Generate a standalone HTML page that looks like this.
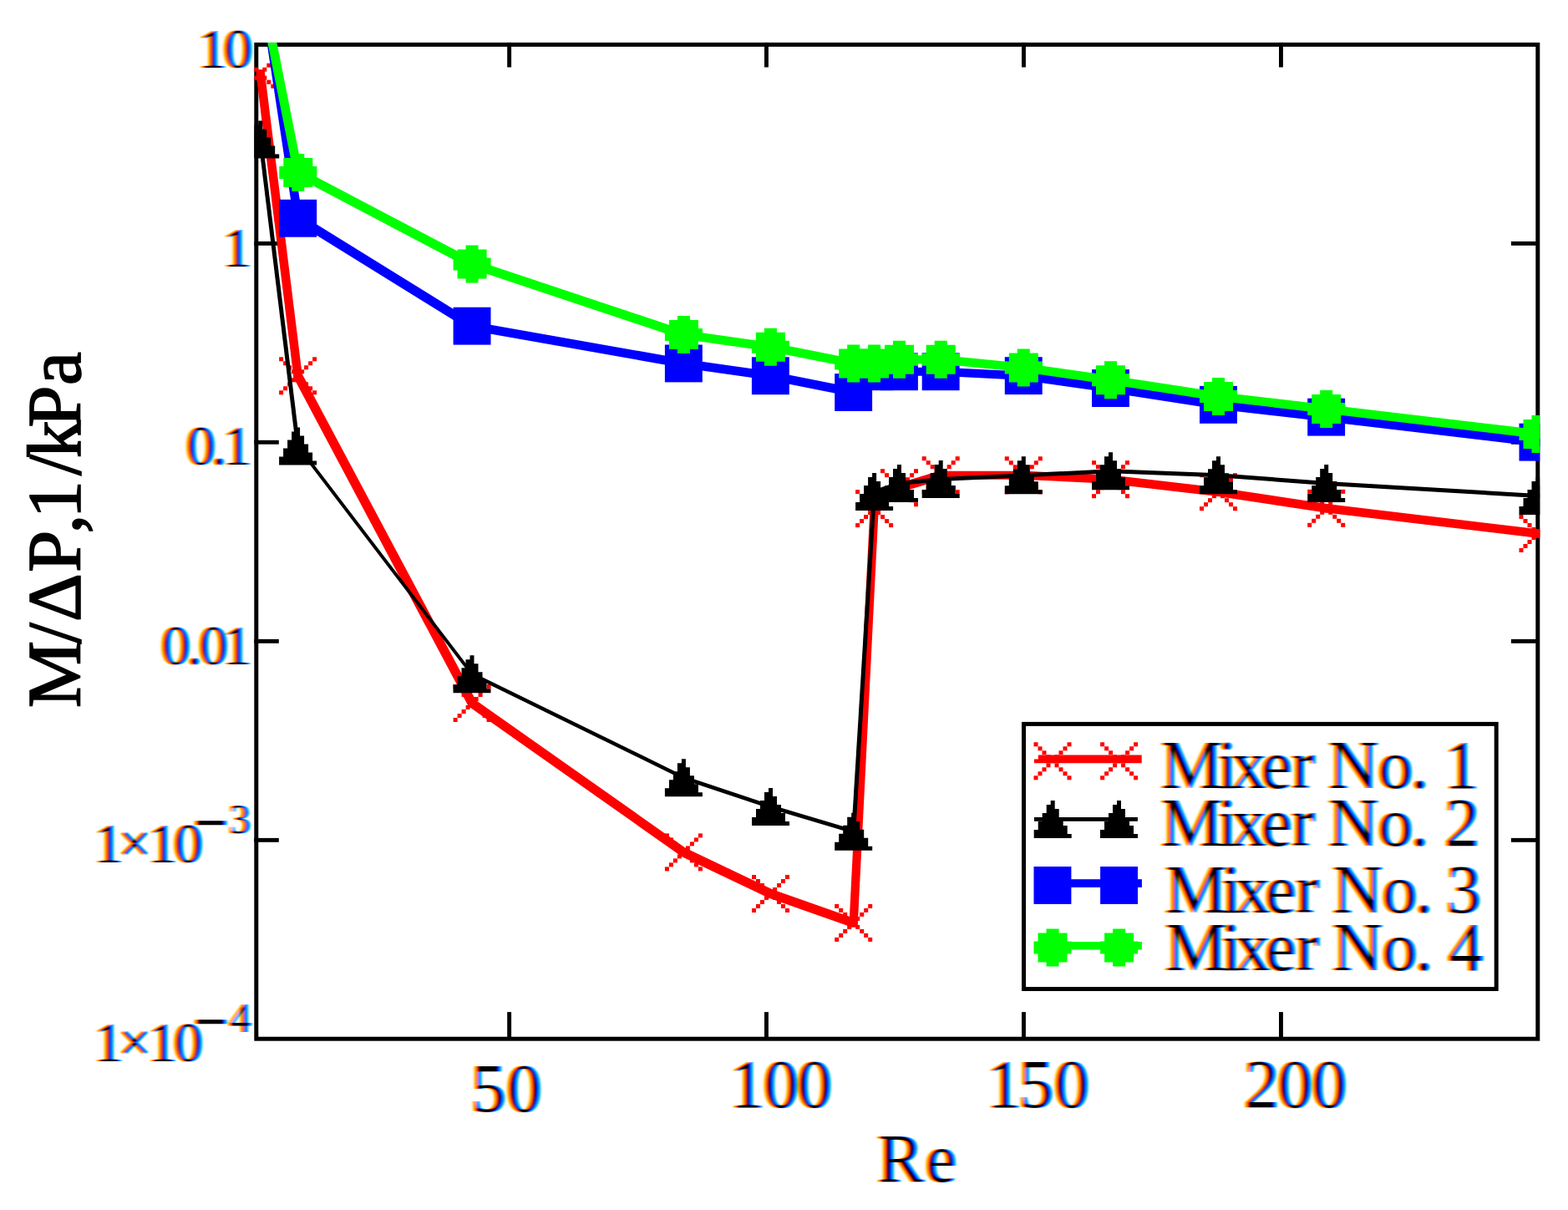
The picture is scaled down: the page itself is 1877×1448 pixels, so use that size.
<!DOCTYPE html>
<html><head><meta charset="utf-8"><title>Mixer chart</title>
<style>html,body{margin:0;padding:0;background:#fff;overflow:hidden;}svg{display:block;}</style>
</head><body>
<svg width="1877" height="1448" viewBox="0 0 1877 1448">
<rect width="1877" height="1448" fill="#fff"/>
<defs><clipPath id="pc"><rect x="304.3" y="50.9" width="1539.0" height="1194.8"/></clipPath></defs>
<rect x="306.8" y="53.4" width="1534.0" height="1189.8" fill="none" stroke="#000" stroke-width="4.99"/>
<g fill="#000"><rect x="607.2" y="50.9" width="4.9" height="29.6"/><rect x="607.2" y="1211.1" width="4.9" height="32"/><rect x="915.0" y="50.9" width="4.9" height="29.6"/><rect x="915.0" y="1211.1" width="4.9" height="32"/><rect x="1223.0" y="50.9" width="4.9" height="29.6"/><rect x="1223.0" y="1211.1" width="4.9" height="32"/><rect x="1531.0" y="50.9" width="4.9" height="29.6"/><rect x="1531.0" y="1211.1" width="4.9" height="32"/><rect x="304.3" y="288.9" width="29.5" height="4.9"/><rect x="1808.9" y="288.9" width="32" height="4.9"/><rect x="304.3" y="526.8" width="29.5" height="4.9"/><rect x="1808.9" y="526.8" width="32" height="4.9"/><rect x="304.3" y="764.9" width="29.5" height="4.9"/><rect x="1808.9" y="764.9" width="32" height="4.9"/><rect x="304.3" y="1002.9" width="29.5" height="4.9"/><rect x="1808.9" y="1002.9" width="32" height="4.9"/></g>
<g clip-path="url(#pc)"><g fill="#ff0000"><polygon points="306.8,85.7 316.8,85.7 361.6,447.3 361.6,452.3 351.6,452.3 306.8,90.7"/><polygon points="351.6,447.3 361.6,447.3 570.1,839.0 570.1,844.0 560.1,844.0 351.6,452.3"/><polygon points="562.6,836.5 567.6,836.5 820.9,1014.9 820.9,1024.9 815.9,1024.9 562.6,846.5"/><polygon points="815.9,1014.9 820.9,1014.9 925.0,1064.5 925.0,1074.5 920.0,1074.5 815.9,1024.9"/><polygon points="920.0,1064.5 925.0,1064.5 1024.2,1099.4 1024.2,1109.4 1019.2,1109.4 920.0,1074.5"/><polygon points="1016.7,1101.9 1041.6,606.1 1051.6,606.1 1051.6,611.1 1026.7,1106.9 1016.7,1106.9"/><polygon points="1044.1,603.6 1074.0,578.7 1079.0,578.7 1079.0,588.7 1049.1,613.6 1044.1,613.6"/><polygon points="1074.0,578.7 1123.7,563.7 1128.7,563.7 1128.7,573.7 1079.0,588.7 1074.0,588.7"/><polygon points="1123.7,563.7 1128.7,563.7 1227.8,563.8 1227.8,573.8 1222.8,573.8 1123.7,573.7"/><polygon points="1222.8,563.8 1227.8,563.8 1332.0,568.7 1332.0,578.7 1327.0,578.7 1222.8,573.8"/><polygon points="1327.0,568.7 1332.0,568.7 1461.0,583.7 1461.0,593.7 1456.0,593.7 1327.0,578.7"/><polygon points="1456.0,583.7 1461.0,583.7 1590.2,603.3 1590.2,613.3 1585.2,613.3 1456.0,593.7"/><polygon points="1585.2,603.3 1590.2,603.3 1843.5,633.5 1843.5,643.5 1838.5,643.5 1585.2,613.3"/><rect x="306.8" y="83.2" width="10.0" height="10.0"/><rect x="351.6" y="444.8" width="10.0" height="10.0"/><rect x="560.1" y="836.5" width="10.0" height="10.0"/><rect x="813.4" y="1014.9" width="10.0" height="10.0"/><rect x="917.5" y="1064.5" width="10.0" height="10.0"/><rect x="1016.7" y="1099.4" width="10.0" height="10.0"/><rect x="1041.6" y="603.6" width="10.0" height="10.0"/><rect x="1071.5" y="578.7" width="10.0" height="10.0"/><rect x="1121.2" y="563.7" width="10.0" height="10.0"/><rect x="1220.3" y="563.8" width="10.0" height="10.0"/><rect x="1324.5" y="568.7" width="10.0" height="10.0"/><rect x="1453.5" y="583.7" width="10.0" height="10.0"/><rect x="1582.7" y="603.3" width="10.0" height="10.0"/><rect x="1836.0" y="633.5" width="10.0" height="10.0"/></g><g fill="#ff0000"><rect x="289.3" y="65.7" width="5.0" height="5.0"/><rect x="329.3" y="65.7" width="5.0" height="5.0"/><rect x="294.3" y="70.7" width="5.0" height="5.0"/><rect x="324.3" y="70.7" width="5.0" height="5.0"/><rect x="299.3" y="75.7" width="5.0" height="5.0"/><rect x="319.3" y="75.7" width="5.0" height="5.0"/><rect x="304.3" y="80.7" width="5.0" height="5.0"/><rect x="314.3" y="80.7" width="5.0" height="5.0"/><rect x="309.3" y="85.7" width="5.0" height="5.0"/><rect x="314.3" y="90.7" width="5.0" height="5.0"/><rect x="304.3" y="90.7" width="5.0" height="5.0"/><rect x="319.3" y="95.7" width="5.0" height="5.0"/><rect x="299.3" y="95.7" width="5.0" height="5.0"/><rect x="324.3" y="100.7" width="5.0" height="5.0"/><rect x="294.3" y="100.7" width="5.0" height="5.0"/><rect x="329.3" y="105.7" width="5.0" height="5.0"/><rect x="289.3" y="105.7" width="5.0" height="5.0"/></g><g fill="#ff0000"><rect x="334.1" y="427.3" width="5.0" height="5.0"/><rect x="374.1" y="427.3" width="5.0" height="5.0"/><rect x="339.1" y="432.3" width="5.0" height="5.0"/><rect x="369.1" y="432.3" width="5.0" height="5.0"/><rect x="344.1" y="437.3" width="5.0" height="5.0"/><rect x="364.1" y="437.3" width="5.0" height="5.0"/><rect x="349.1" y="442.3" width="5.0" height="5.0"/><rect x="359.1" y="442.3" width="5.0" height="5.0"/><rect x="354.1" y="447.3" width="5.0" height="5.0"/><rect x="359.1" y="452.3" width="5.0" height="5.0"/><rect x="349.1" y="452.3" width="5.0" height="5.0"/><rect x="364.1" y="457.3" width="5.0" height="5.0"/><rect x="344.1" y="457.3" width="5.0" height="5.0"/><rect x="369.1" y="462.3" width="5.0" height="5.0"/><rect x="339.1" y="462.3" width="5.0" height="5.0"/><rect x="374.1" y="467.3" width="5.0" height="5.0"/><rect x="334.1" y="467.3" width="5.0" height="5.0"/></g><g fill="#ff0000"><rect x="542.6" y="819.0" width="5.0" height="5.0"/><rect x="582.6" y="819.0" width="5.0" height="5.0"/><rect x="547.6" y="824.0" width="5.0" height="5.0"/><rect x="577.6" y="824.0" width="5.0" height="5.0"/><rect x="552.6" y="829.0" width="5.0" height="5.0"/><rect x="572.6" y="829.0" width="5.0" height="5.0"/><rect x="557.6" y="834.0" width="5.0" height="5.0"/><rect x="567.6" y="834.0" width="5.0" height="5.0"/><rect x="562.6" y="839.0" width="5.0" height="5.0"/><rect x="567.6" y="844.0" width="5.0" height="5.0"/><rect x="557.6" y="844.0" width="5.0" height="5.0"/><rect x="572.6" y="849.0" width="5.0" height="5.0"/><rect x="552.6" y="849.0" width="5.0" height="5.0"/><rect x="577.6" y="854.0" width="5.0" height="5.0"/><rect x="547.6" y="854.0" width="5.0" height="5.0"/><rect x="582.6" y="859.0" width="5.0" height="5.0"/><rect x="542.6" y="859.0" width="5.0" height="5.0"/></g><g fill="#ff0000"><rect x="795.9" y="997.4" width="5.0" height="5.0"/><rect x="835.9" y="997.4" width="5.0" height="5.0"/><rect x="800.9" y="1002.4" width="5.0" height="5.0"/><rect x="830.9" y="1002.4" width="5.0" height="5.0"/><rect x="805.9" y="1007.4" width="5.0" height="5.0"/><rect x="825.9" y="1007.4" width="5.0" height="5.0"/><rect x="810.9" y="1012.4" width="5.0" height="5.0"/><rect x="820.9" y="1012.4" width="5.0" height="5.0"/><rect x="815.9" y="1017.4" width="5.0" height="5.0"/><rect x="820.9" y="1022.4" width="5.0" height="5.0"/><rect x="810.9" y="1022.4" width="5.0" height="5.0"/><rect x="825.9" y="1027.4" width="5.0" height="5.0"/><rect x="805.9" y="1027.4" width="5.0" height="5.0"/><rect x="830.9" y="1032.4" width="5.0" height="5.0"/><rect x="800.9" y="1032.4" width="5.0" height="5.0"/><rect x="835.9" y="1037.4" width="5.0" height="5.0"/><rect x="795.9" y="1037.4" width="5.0" height="5.0"/></g><g fill="#ff0000"><rect x="900.0" y="1047.0" width="5.0" height="5.0"/><rect x="940.0" y="1047.0" width="5.0" height="5.0"/><rect x="905.0" y="1052.0" width="5.0" height="5.0"/><rect x="935.0" y="1052.0" width="5.0" height="5.0"/><rect x="910.0" y="1057.0" width="5.0" height="5.0"/><rect x="930.0" y="1057.0" width="5.0" height="5.0"/><rect x="915.0" y="1062.0" width="5.0" height="5.0"/><rect x="925.0" y="1062.0" width="5.0" height="5.0"/><rect x="920.0" y="1067.0" width="5.0" height="5.0"/><rect x="925.0" y="1072.0" width="5.0" height="5.0"/><rect x="915.0" y="1072.0" width="5.0" height="5.0"/><rect x="930.0" y="1077.0" width="5.0" height="5.0"/><rect x="910.0" y="1077.0" width="5.0" height="5.0"/><rect x="935.0" y="1082.0" width="5.0" height="5.0"/><rect x="905.0" y="1082.0" width="5.0" height="5.0"/><rect x="940.0" y="1087.0" width="5.0" height="5.0"/><rect x="900.0" y="1087.0" width="5.0" height="5.0"/></g><g fill="#ff0000"><rect x="999.2" y="1081.9" width="5.0" height="5.0"/><rect x="1039.2" y="1081.9" width="5.0" height="5.0"/><rect x="1004.2" y="1086.9" width="5.0" height="5.0"/><rect x="1034.2" y="1086.9" width="5.0" height="5.0"/><rect x="1009.2" y="1091.9" width="5.0" height="5.0"/><rect x="1029.2" y="1091.9" width="5.0" height="5.0"/><rect x="1014.2" y="1096.9" width="5.0" height="5.0"/><rect x="1024.2" y="1096.9" width="5.0" height="5.0"/><rect x="1019.2" y="1101.9" width="5.0" height="5.0"/><rect x="1024.2" y="1106.9" width="5.0" height="5.0"/><rect x="1014.2" y="1106.9" width="5.0" height="5.0"/><rect x="1029.2" y="1111.9" width="5.0" height="5.0"/><rect x="1009.2" y="1111.9" width="5.0" height="5.0"/><rect x="1034.2" y="1116.9" width="5.0" height="5.0"/><rect x="1004.2" y="1116.9" width="5.0" height="5.0"/><rect x="1039.2" y="1121.9" width="5.0" height="5.0"/><rect x="999.2" y="1121.9" width="5.0" height="5.0"/></g><g fill="#ff0000"><rect x="1024.1" y="586.1" width="5.0" height="5.0"/><rect x="1064.1" y="586.1" width="5.0" height="5.0"/><rect x="1029.1" y="591.1" width="5.0" height="5.0"/><rect x="1059.1" y="591.1" width="5.0" height="5.0"/><rect x="1034.1" y="596.1" width="5.0" height="5.0"/><rect x="1054.1" y="596.1" width="5.0" height="5.0"/><rect x="1039.1" y="601.1" width="5.0" height="5.0"/><rect x="1049.1" y="601.1" width="5.0" height="5.0"/><rect x="1044.1" y="606.1" width="5.0" height="5.0"/><rect x="1049.1" y="611.1" width="5.0" height="5.0"/><rect x="1039.1" y="611.1" width="5.0" height="5.0"/><rect x="1054.1" y="616.1" width="5.0" height="5.0"/><rect x="1034.1" y="616.1" width="5.0" height="5.0"/><rect x="1059.1" y="621.1" width="5.0" height="5.0"/><rect x="1029.1" y="621.1" width="5.0" height="5.0"/><rect x="1064.1" y="626.1" width="5.0" height="5.0"/><rect x="1024.1" y="626.1" width="5.0" height="5.0"/></g><g fill="#ff0000"><rect x="1054.0" y="561.2" width="5.0" height="5.0"/><rect x="1094.0" y="561.2" width="5.0" height="5.0"/><rect x="1059.0" y="566.2" width="5.0" height="5.0"/><rect x="1089.0" y="566.2" width="5.0" height="5.0"/><rect x="1064.0" y="571.2" width="5.0" height="5.0"/><rect x="1084.0" y="571.2" width="5.0" height="5.0"/><rect x="1069.0" y="576.2" width="5.0" height="5.0"/><rect x="1079.0" y="576.2" width="5.0" height="5.0"/><rect x="1074.0" y="581.2" width="5.0" height="5.0"/><rect x="1079.0" y="586.2" width="5.0" height="5.0"/><rect x="1069.0" y="586.2" width="5.0" height="5.0"/><rect x="1084.0" y="591.2" width="5.0" height="5.0"/><rect x="1064.0" y="591.2" width="5.0" height="5.0"/><rect x="1089.0" y="596.2" width="5.0" height="5.0"/><rect x="1059.0" y="596.2" width="5.0" height="5.0"/><rect x="1094.0" y="601.2" width="5.0" height="5.0"/><rect x="1054.0" y="601.2" width="5.0" height="5.0"/></g><g fill="#ff0000"><rect x="1103.7" y="546.2" width="5.0" height="5.0"/><rect x="1143.7" y="546.2" width="5.0" height="5.0"/><rect x="1108.7" y="551.2" width="5.0" height="5.0"/><rect x="1138.7" y="551.2" width="5.0" height="5.0"/><rect x="1113.7" y="556.2" width="5.0" height="5.0"/><rect x="1133.7" y="556.2" width="5.0" height="5.0"/><rect x="1118.7" y="561.2" width="5.0" height="5.0"/><rect x="1128.7" y="561.2" width="5.0" height="5.0"/><rect x="1123.7" y="566.2" width="5.0" height="5.0"/><rect x="1128.7" y="571.2" width="5.0" height="5.0"/><rect x="1118.7" y="571.2" width="5.0" height="5.0"/><rect x="1133.7" y="576.2" width="5.0" height="5.0"/><rect x="1113.7" y="576.2" width="5.0" height="5.0"/><rect x="1138.7" y="581.2" width="5.0" height="5.0"/><rect x="1108.7" y="581.2" width="5.0" height="5.0"/><rect x="1143.7" y="586.2" width="5.0" height="5.0"/><rect x="1103.7" y="586.2" width="5.0" height="5.0"/></g><g fill="#ff0000"><rect x="1202.8" y="546.3" width="5.0" height="5.0"/><rect x="1242.8" y="546.3" width="5.0" height="5.0"/><rect x="1207.8" y="551.3" width="5.0" height="5.0"/><rect x="1237.8" y="551.3" width="5.0" height="5.0"/><rect x="1212.8" y="556.3" width="5.0" height="5.0"/><rect x="1232.8" y="556.3" width="5.0" height="5.0"/><rect x="1217.8" y="561.3" width="5.0" height="5.0"/><rect x="1227.8" y="561.3" width="5.0" height="5.0"/><rect x="1222.8" y="566.3" width="5.0" height="5.0"/><rect x="1227.8" y="571.3" width="5.0" height="5.0"/><rect x="1217.8" y="571.3" width="5.0" height="5.0"/><rect x="1232.8" y="576.3" width="5.0" height="5.0"/><rect x="1212.8" y="576.3" width="5.0" height="5.0"/><rect x="1237.8" y="581.3" width="5.0" height="5.0"/><rect x="1207.8" y="581.3" width="5.0" height="5.0"/><rect x="1242.8" y="586.3" width="5.0" height="5.0"/><rect x="1202.8" y="586.3" width="5.0" height="5.0"/></g><g fill="#ff0000"><rect x="1307.0" y="551.2" width="5.0" height="5.0"/><rect x="1347.0" y="551.2" width="5.0" height="5.0"/><rect x="1312.0" y="556.2" width="5.0" height="5.0"/><rect x="1342.0" y="556.2" width="5.0" height="5.0"/><rect x="1317.0" y="561.2" width="5.0" height="5.0"/><rect x="1337.0" y="561.2" width="5.0" height="5.0"/><rect x="1322.0" y="566.2" width="5.0" height="5.0"/><rect x="1332.0" y="566.2" width="5.0" height="5.0"/><rect x="1327.0" y="571.2" width="5.0" height="5.0"/><rect x="1332.0" y="576.2" width="5.0" height="5.0"/><rect x="1322.0" y="576.2" width="5.0" height="5.0"/><rect x="1337.0" y="581.2" width="5.0" height="5.0"/><rect x="1317.0" y="581.2" width="5.0" height="5.0"/><rect x="1342.0" y="586.2" width="5.0" height="5.0"/><rect x="1312.0" y="586.2" width="5.0" height="5.0"/><rect x="1347.0" y="591.2" width="5.0" height="5.0"/><rect x="1307.0" y="591.2" width="5.0" height="5.0"/></g><g fill="#ff0000"><rect x="1436.0" y="566.2" width="5.0" height="5.0"/><rect x="1476.0" y="566.2" width="5.0" height="5.0"/><rect x="1441.0" y="571.2" width="5.0" height="5.0"/><rect x="1471.0" y="571.2" width="5.0" height="5.0"/><rect x="1446.0" y="576.2" width="5.0" height="5.0"/><rect x="1466.0" y="576.2" width="5.0" height="5.0"/><rect x="1451.0" y="581.2" width="5.0" height="5.0"/><rect x="1461.0" y="581.2" width="5.0" height="5.0"/><rect x="1456.0" y="586.2" width="5.0" height="5.0"/><rect x="1461.0" y="591.2" width="5.0" height="5.0"/><rect x="1451.0" y="591.2" width="5.0" height="5.0"/><rect x="1466.0" y="596.2" width="5.0" height="5.0"/><rect x="1446.0" y="596.2" width="5.0" height="5.0"/><rect x="1471.0" y="601.2" width="5.0" height="5.0"/><rect x="1441.0" y="601.2" width="5.0" height="5.0"/><rect x="1476.0" y="606.2" width="5.0" height="5.0"/><rect x="1436.0" y="606.2" width="5.0" height="5.0"/></g><g fill="#ff0000"><rect x="1565.2" y="585.8" width="5.0" height="5.0"/><rect x="1605.2" y="585.8" width="5.0" height="5.0"/><rect x="1570.2" y="590.8" width="5.0" height="5.0"/><rect x="1600.2" y="590.8" width="5.0" height="5.0"/><rect x="1575.2" y="595.8" width="5.0" height="5.0"/><rect x="1595.2" y="595.8" width="5.0" height="5.0"/><rect x="1580.2" y="600.8" width="5.0" height="5.0"/><rect x="1590.2" y="600.8" width="5.0" height="5.0"/><rect x="1585.2" y="605.8" width="5.0" height="5.0"/><rect x="1590.2" y="610.8" width="5.0" height="5.0"/><rect x="1580.2" y="610.8" width="5.0" height="5.0"/><rect x="1595.2" y="615.8" width="5.0" height="5.0"/><rect x="1575.2" y="615.8" width="5.0" height="5.0"/><rect x="1600.2" y="620.8" width="5.0" height="5.0"/><rect x="1570.2" y="620.8" width="5.0" height="5.0"/><rect x="1605.2" y="625.8" width="5.0" height="5.0"/><rect x="1565.2" y="625.8" width="5.0" height="5.0"/></g><g fill="#ff0000"><rect x="1818.5" y="616.0" width="5.0" height="5.0"/><rect x="1858.5" y="616.0" width="5.0" height="5.0"/><rect x="1823.5" y="621.0" width="5.0" height="5.0"/><rect x="1853.5" y="621.0" width="5.0" height="5.0"/><rect x="1828.5" y="626.0" width="5.0" height="5.0"/><rect x="1848.5" y="626.0" width="5.0" height="5.0"/><rect x="1833.5" y="631.0" width="5.0" height="5.0"/><rect x="1843.5" y="631.0" width="5.0" height="5.0"/><rect x="1838.5" y="636.0" width="5.0" height="5.0"/><rect x="1843.5" y="641.0" width="5.0" height="5.0"/><rect x="1833.5" y="641.0" width="5.0" height="5.0"/><rect x="1848.5" y="646.0" width="5.0" height="5.0"/><rect x="1828.5" y="646.0" width="5.0" height="5.0"/><rect x="1853.5" y="651.0" width="5.0" height="5.0"/><rect x="1823.5" y="651.0" width="5.0" height="5.0"/><rect x="1858.5" y="656.0" width="5.0" height="5.0"/><rect x="1818.5" y="656.0" width="5.0" height="5.0"/></g><g fill="#000000"><polygon points="309.2,167.0 314.2,167.0 359.1,533.9 354.1,533.9"/><polygon points="354.1,533.9 359.1,533.9 567.5,806.8 562.5,806.8"/><polygon points="565.0,804.3 818.4,928.2 818.4,933.2 565.0,809.3"/><polygon points="818.4,928.2 922.5,962.9 922.5,967.9 818.4,933.2"/><polygon points="922.5,962.9 1021.7,992.7 1021.7,997.7 922.5,967.9"/><polygon points="1019.2,995.2 1044.1,588.5 1049.1,588.5 1024.2,995.2"/><polygon points="1046.6,586.0 1076.5,576.1 1076.5,581.1 1046.6,591.0"/><polygon points="1076.5,576.1 1126.2,571.1 1126.2,576.1 1076.5,581.1"/><polygon points="1126.2,571.1 1225.3,566.3 1225.3,571.3 1126.2,576.1"/><polygon points="1225.3,566.3 1329.5,561.3 1329.5,566.3 1225.3,571.3"/><polygon points="1329.5,561.3 1458.5,566.3 1458.5,571.3 1329.5,566.3"/><polygon points="1458.5,566.3 1587.7,576.0 1587.7,581.0 1458.5,571.3"/><polygon points="1587.7,576.0 1841.0,590.9 1841.0,595.9 1587.7,581.0"/><rect x="309.2" y="164.5" width="5.0" height="5.0"/><rect x="354.1" y="531.4" width="5.0" height="5.0"/><rect x="562.5" y="804.3" width="5.0" height="5.0"/><rect x="815.9" y="928.2" width="5.0" height="5.0"/><rect x="920.0" y="962.9" width="5.0" height="5.0"/><rect x="1019.2" y="992.7" width="5.0" height="5.0"/><rect x="1044.1" y="586.0" width="5.0" height="5.0"/><rect x="1074.0" y="576.1" width="5.0" height="5.0"/><rect x="1123.7" y="571.1" width="5.0" height="5.0"/><rect x="1222.8" y="566.3" width="5.0" height="5.0"/><rect x="1327.0" y="561.3" width="5.0" height="5.0"/><rect x="1456.0" y="566.3" width="5.0" height="5.0"/><rect x="1585.2" y="576.0" width="5.0" height="5.0"/><rect x="1838.5" y="590.9" width="5.0" height="5.0"/></g><polygon fill="#000000" points="309.2,144.5 314.2,144.5 314.2,154.5 319.2,154.5 319.2,164.5 324.2,164.5 324.2,174.5 329.2,174.5 329.2,184.5 334.2,184.5 334.2,189.5 289.2,189.5 289.2,179.5 294.2,179.5 294.2,169.5 299.2,169.5 299.2,159.5 304.2,159.5 304.2,149.5 309.2,149.5"/><polygon fill="#000000" points="354.1,511.4 359.1,511.4 359.1,521.4 364.1,521.4 364.1,531.4 369.1,531.4 369.1,541.4 374.1,541.4 374.1,551.4 379.1,551.4 379.1,556.4 334.1,556.4 334.1,546.4 339.1,546.4 339.1,536.4 344.1,536.4 344.1,526.4 349.1,526.4 349.1,516.4 354.1,516.4"/><polygon fill="#000000" points="562.5,784.3 567.5,784.3 567.5,794.3 572.5,794.3 572.5,804.3 577.5,804.3 577.5,814.3 582.5,814.3 582.5,824.3 587.5,824.3 587.5,829.3 542.5,829.3 542.5,819.3 547.5,819.3 547.5,809.3 552.5,809.3 552.5,799.3 557.5,799.3 557.5,789.3 562.5,789.3"/><polygon fill="#000000" points="815.9,908.2 820.9,908.2 820.9,918.2 825.9,918.2 825.9,928.2 830.9,928.2 830.9,938.2 835.9,938.2 835.9,948.2 840.9,948.2 840.9,953.2 795.9,953.2 795.9,943.2 800.9,943.2 800.9,933.2 805.9,933.2 805.9,923.2 810.9,923.2 810.9,913.2 815.9,913.2"/><polygon fill="#000000" points="920.0,942.9 925.0,942.9 925.0,952.9 930.0,952.9 930.0,962.9 935.0,962.9 935.0,972.9 940.0,972.9 940.0,982.9 945.0,982.9 945.0,987.9 900.0,987.9 900.0,977.9 905.0,977.9 905.0,967.9 910.0,967.9 910.0,957.9 915.0,957.9 915.0,947.9 920.0,947.9"/><polygon fill="#000000" points="1019.2,972.7 1024.2,972.7 1024.2,982.7 1029.2,982.7 1029.2,992.7 1034.2,992.7 1034.2,1002.7 1039.2,1002.7 1039.2,1012.7 1044.2,1012.7 1044.2,1017.7 999.2,1017.7 999.2,1007.7 1004.2,1007.7 1004.2,997.7 1009.2,997.7 1009.2,987.7 1014.2,987.7 1014.2,977.7 1019.2,977.7"/><polygon fill="#000000" points="1044.1,566.0 1049.1,566.0 1049.1,576.0 1054.1,576.0 1054.1,586.0 1059.1,586.0 1059.1,596.0 1064.1,596.0 1064.1,606.0 1069.1,606.0 1069.1,611.0 1024.1,611.0 1024.1,601.0 1029.1,601.0 1029.1,591.0 1034.1,591.0 1034.1,581.0 1039.1,581.0 1039.1,571.0 1044.1,571.0"/><polygon fill="#000000" points="1074.0,556.1 1079.0,556.1 1079.0,566.1 1084.0,566.1 1084.0,576.1 1089.0,576.1 1089.0,586.1 1094.0,586.1 1094.0,596.1 1099.0,596.1 1099.0,601.1 1054.0,601.1 1054.0,591.1 1059.0,591.1 1059.0,581.1 1064.0,581.1 1064.0,571.1 1069.0,571.1 1069.0,561.1 1074.0,561.1"/><polygon fill="#000000" points="1123.7,551.1 1128.7,551.1 1128.7,561.1 1133.7,561.1 1133.7,571.1 1138.7,571.1 1138.7,581.1 1143.7,581.1 1143.7,591.1 1148.7,591.1 1148.7,596.1 1103.7,596.1 1103.7,586.1 1108.7,586.1 1108.7,576.1 1113.7,576.1 1113.7,566.1 1118.7,566.1 1118.7,556.1 1123.7,556.1"/><polygon fill="#000000" points="1222.8,546.3 1227.8,546.3 1227.8,556.3 1232.8,556.3 1232.8,566.3 1237.8,566.3 1237.8,576.3 1242.8,576.3 1242.8,586.3 1247.8,586.3 1247.8,591.3 1202.8,591.3 1202.8,581.3 1207.8,581.3 1207.8,571.3 1212.8,571.3 1212.8,561.3 1217.8,561.3 1217.8,551.3 1222.8,551.3"/><polygon fill="#000000" points="1327.0,541.3 1332.0,541.3 1332.0,551.3 1337.0,551.3 1337.0,561.3 1342.0,561.3 1342.0,571.3 1347.0,571.3 1347.0,581.3 1352.0,581.3 1352.0,586.3 1307.0,586.3 1307.0,576.3 1312.0,576.3 1312.0,566.3 1317.0,566.3 1317.0,556.3 1322.0,556.3 1322.0,546.3 1327.0,546.3"/><polygon fill="#000000" points="1456.0,546.3 1461.0,546.3 1461.0,556.3 1466.0,556.3 1466.0,566.3 1471.0,566.3 1471.0,576.3 1476.0,576.3 1476.0,586.3 1481.0,586.3 1481.0,591.3 1436.0,591.3 1436.0,581.3 1441.0,581.3 1441.0,571.3 1446.0,571.3 1446.0,561.3 1451.0,561.3 1451.0,551.3 1456.0,551.3"/><polygon fill="#000000" points="1585.2,556.0 1590.2,556.0 1590.2,566.0 1595.2,566.0 1595.2,576.0 1600.2,576.0 1600.2,586.0 1605.2,586.0 1605.2,596.0 1610.2,596.0 1610.2,601.0 1565.2,601.0 1565.2,591.0 1570.2,591.0 1570.2,581.0 1575.2,581.0 1575.2,571.0 1580.2,571.0 1580.2,561.0 1585.2,561.0"/><polygon fill="#000000" points="1838.5,570.9 1843.5,570.9 1843.5,580.9 1848.5,580.9 1848.5,590.9 1853.5,590.9 1853.5,600.9 1858.5,600.9 1858.5,610.9 1863.5,610.9 1863.5,615.9 1818.5,615.9 1818.5,605.9 1823.5,605.9 1823.5,595.9 1828.5,595.9 1828.5,585.9 1833.5,585.9 1833.5,575.9 1838.5,575.9"/><g fill="#0000ff"><polygon points="306.8,-37.5 316.8,-37.5 361.8,258.8 361.8,263.8 351.8,263.8 306.8,-32.5"/><polygon points="354.3,256.3 359.3,256.3 567.6,385.2 567.6,395.2 562.6,395.2 354.3,266.3"/><polygon points="562.6,385.2 567.6,385.2 820.9,430.0 820.9,440.0 815.9,440.0 562.6,395.2"/><polygon points="815.9,430.0 820.9,430.0 924.9,444.8 924.9,454.8 919.9,454.8 815.9,440.0"/><polygon points="919.9,444.8 924.9,444.8 1024.2,464.6 1024.2,474.6 1019.2,474.6 919.9,454.8"/><polygon points="1019.2,464.6 1044.1,439.8 1049.1,439.8 1049.1,449.8 1024.2,474.6 1019.2,474.6"/><polygon points="1044.1,439.8 1079.0,439.8 1079.0,449.8 1044.1,449.8"/><polygon points="1074.0,439.8 1128.7,439.8 1128.7,449.8 1074.0,449.8"/><polygon points="1123.7,439.8 1128.7,439.8 1227.8,444.7 1227.8,454.7 1222.8,454.7 1123.7,449.8"/><polygon points="1222.8,444.7 1227.8,444.7 1332.0,459.6 1332.0,469.6 1327.0,469.6 1222.8,454.7"/><polygon points="1327.0,459.6 1332.0,459.6 1461.0,479.4 1461.0,489.4 1456.0,489.4 1327.0,469.6"/><polygon points="1456.0,479.4 1461.0,479.4 1590.2,494.2 1590.2,504.2 1585.2,504.2 1456.0,489.4"/><polygon points="1585.2,494.2 1590.2,494.2 1843.5,524.2 1843.5,534.2 1838.5,534.2 1585.2,504.2"/><rect x="306.8" y="-40.0" width="10.0" height="10.0"/><rect x="351.8" y="256.3" width="10.0" height="10.0"/><rect x="560.1" y="385.2" width="10.0" height="10.0"/><rect x="813.4" y="430.0" width="10.0" height="10.0"/><rect x="917.4" y="444.8" width="10.0" height="10.0"/><rect x="1016.7" y="464.6" width="10.0" height="10.0"/><rect x="1041.6" y="439.8" width="10.0" height="10.0"/><rect x="1071.5" y="439.8" width="10.0" height="10.0"/><rect x="1121.2" y="439.8" width="10.0" height="10.0"/><rect x="1220.3" y="444.7" width="10.0" height="10.0"/><rect x="1324.5" y="459.6" width="10.0" height="10.0"/><rect x="1453.5" y="479.4" width="10.0" height="10.0"/><rect x="1582.7" y="494.2" width="10.0" height="10.0"/><rect x="1836.0" y="524.2" width="10.0" height="10.0"/></g><rect fill="#0000ff" x="289.3" y="-57.5" width="44.9" height="44.9"/><rect fill="#0000ff" x="334.3" y="238.8" width="44.9" height="44.9"/><rect fill="#0000ff" x="542.6" y="367.7" width="44.9" height="44.9"/><rect fill="#0000ff" x="795.9" y="412.5" width="44.9" height="44.9"/><rect fill="#0000ff" x="899.9" y="427.3" width="44.9" height="44.9"/><rect fill="#0000ff" x="999.2" y="447.1" width="44.9" height="44.9"/><rect fill="#0000ff" x="1024.1" y="422.3" width="44.9" height="44.9"/><rect fill="#0000ff" x="1054.0" y="422.3" width="44.9" height="44.9"/><rect fill="#0000ff" x="1103.7" y="422.3" width="44.9" height="44.9"/><rect fill="#0000ff" x="1202.8" y="427.2" width="44.9" height="44.9"/><rect fill="#0000ff" x="1307.0" y="442.1" width="44.9" height="44.9"/><rect fill="#0000ff" x="1436.0" y="461.9" width="44.9" height="44.9"/><rect fill="#0000ff" x="1565.2" y="476.7" width="44.9" height="44.9"/><rect fill="#0000ff" x="1818.5" y="506.7" width="44.9" height="44.9"/><g fill="#00ff00"><polygon points="306.8,-22.5 316.8,-22.5 361.8,204.1 361.8,209.1 351.8,209.1 306.8,-17.5"/><polygon points="354.3,201.6 359.3,201.6 567.6,311.1 567.6,321.1 562.6,321.1 354.3,211.6"/><polygon points="562.6,311.1 567.6,311.1 820.9,395.4 820.9,405.4 815.9,405.4 562.6,321.1"/><polygon points="815.9,395.4 820.9,395.4 924.9,410.3 924.9,420.3 919.9,420.3 815.9,405.4"/><polygon points="919.9,410.3 924.9,410.3 1024.2,430.1 1024.2,440.1 1019.2,440.1 919.9,420.3"/><polygon points="1019.2,430.1 1049.1,430.1 1049.1,440.1 1019.2,440.1"/><polygon points="1044.1,430.1 1074.0,425.2 1079.0,425.2 1079.0,435.2 1049.1,440.1 1044.1,440.1"/><polygon points="1074.0,425.2 1128.7,425.2 1128.7,435.2 1074.0,435.2"/><polygon points="1123.7,425.2 1128.7,425.2 1227.8,435.0 1227.8,445.0 1222.8,445.0 1123.7,435.2"/><polygon points="1222.8,435.0 1227.8,435.0 1332.0,449.7 1332.0,459.7 1327.0,459.7 1222.8,445.0"/><polygon points="1327.0,449.7 1332.0,449.7 1461.0,469.6 1461.0,479.6 1456.0,479.6 1327.0,459.7"/><polygon points="1456.0,469.6 1461.0,469.6 1590.2,484.4 1590.2,494.4 1585.2,494.4 1456.0,479.6"/><polygon points="1585.2,484.4 1590.2,484.4 1843.5,514.4 1843.5,524.4 1838.5,524.4 1585.2,494.4"/><rect x="306.8" y="-25.0" width="10.0" height="10.0"/><rect x="351.8" y="201.6" width="10.0" height="10.0"/><rect x="560.1" y="311.1" width="10.0" height="10.0"/><rect x="813.4" y="395.4" width="10.0" height="10.0"/><rect x="917.4" y="410.3" width="10.0" height="10.0"/><rect x="1016.7" y="430.1" width="10.0" height="10.0"/><rect x="1041.6" y="430.1" width="10.0" height="10.0"/><rect x="1071.5" y="425.2" width="10.0" height="10.0"/><rect x="1121.2" y="425.2" width="10.0" height="10.0"/><rect x="1220.3" y="435.0" width="10.0" height="10.0"/><rect x="1324.5" y="449.7" width="10.0" height="10.0"/><rect x="1453.5" y="469.6" width="10.0" height="10.0"/><rect x="1582.7" y="484.4" width="10.0" height="10.0"/><rect x="1836.0" y="514.4" width="10.0" height="10.0"/></g><polygon fill="#00ff00" points="304.3,-42.5 319.3,-42.5 319.3,-37.5 329.3,-37.5 329.3,-27.5 334.3,-27.5 334.3,-12.5 329.3,-12.5 329.3,-2.5 319.3,-2.5 319.3,2.5 304.3,2.5 304.3,-2.5 294.3,-2.5 294.3,-12.5 289.3,-12.5 289.3,-27.5 294.3,-27.5 294.3,-37.5 304.3,-37.5"/><polygon fill="#00ff00" points="349.3,184.1 364.3,184.1 364.3,189.1 374.3,189.1 374.3,199.1 379.3,199.1 379.3,214.1 374.3,214.1 374.3,224.1 364.3,224.1 364.3,229.1 349.3,229.1 349.3,224.1 339.3,224.1 339.3,214.1 334.3,214.1 334.3,199.1 339.3,199.1 339.3,189.1 349.3,189.1"/><polygon fill="#00ff00" points="557.6,293.6 572.6,293.6 572.6,298.6 582.6,298.6 582.6,308.6 587.6,308.6 587.6,323.6 582.6,323.6 582.6,333.6 572.6,333.6 572.6,338.6 557.6,338.6 557.6,333.6 547.6,333.6 547.6,323.6 542.6,323.6 542.6,308.6 547.6,308.6 547.6,298.6 557.6,298.6"/><polygon fill="#00ff00" points="810.9,377.9 825.9,377.9 825.9,382.9 835.9,382.9 835.9,392.9 840.9,392.9 840.9,407.9 835.9,407.9 835.9,417.9 825.9,417.9 825.9,422.9 810.9,422.9 810.9,417.9 800.9,417.9 800.9,407.9 795.9,407.9 795.9,392.9 800.9,392.9 800.9,382.9 810.9,382.9"/><polygon fill="#00ff00" points="914.9,392.8 929.9,392.8 929.9,397.8 939.9,397.8 939.9,407.8 944.9,407.8 944.9,422.8 939.9,422.8 939.9,432.8 929.9,432.8 929.9,437.8 914.9,437.8 914.9,432.8 904.9,432.8 904.9,422.8 899.9,422.8 899.9,407.8 904.9,407.8 904.9,397.8 914.9,397.8"/><polygon fill="#00ff00" points="1014.2,412.6 1029.2,412.6 1029.2,417.6 1039.2,417.6 1039.2,427.6 1044.2,427.6 1044.2,442.6 1039.2,442.6 1039.2,452.6 1029.2,452.6 1029.2,457.6 1014.2,457.6 1014.2,452.6 1004.2,452.6 1004.2,442.6 999.2,442.6 999.2,427.6 1004.2,427.6 1004.2,417.6 1014.2,417.6"/><polygon fill="#00ff00" points="1039.1,412.6 1054.1,412.6 1054.1,417.6 1064.1,417.6 1064.1,427.6 1069.1,427.6 1069.1,442.6 1064.1,442.6 1064.1,452.6 1054.1,452.6 1054.1,457.6 1039.1,457.6 1039.1,452.6 1029.1,452.6 1029.1,442.6 1024.1,442.6 1024.1,427.6 1029.1,427.6 1029.1,417.6 1039.1,417.6"/><polygon fill="#00ff00" points="1069.0,407.7 1084.0,407.7 1084.0,412.7 1094.0,412.7 1094.0,422.7 1099.0,422.7 1099.0,437.7 1094.0,437.7 1094.0,447.7 1084.0,447.7 1084.0,452.7 1069.0,452.7 1069.0,447.7 1059.0,447.7 1059.0,437.7 1054.0,437.7 1054.0,422.7 1059.0,422.7 1059.0,412.7 1069.0,412.7"/><polygon fill="#00ff00" points="1118.7,407.7 1133.7,407.7 1133.7,412.7 1143.7,412.7 1143.7,422.7 1148.7,422.7 1148.7,437.7 1143.7,437.7 1143.7,447.7 1133.7,447.7 1133.7,452.7 1118.7,452.7 1118.7,447.7 1108.7,447.7 1108.7,437.7 1103.7,437.7 1103.7,422.7 1108.7,422.7 1108.7,412.7 1118.7,412.7"/><polygon fill="#00ff00" points="1217.8,417.5 1232.8,417.5 1232.8,422.5 1242.8,422.5 1242.8,432.5 1247.8,432.5 1247.8,447.5 1242.8,447.5 1242.8,457.5 1232.8,457.5 1232.8,462.5 1217.8,462.5 1217.8,457.5 1207.8,457.5 1207.8,447.5 1202.8,447.5 1202.8,432.5 1207.8,432.5 1207.8,422.5 1217.8,422.5"/><polygon fill="#00ff00" points="1322.0,432.2 1337.0,432.2 1337.0,437.2 1347.0,437.2 1347.0,447.2 1352.0,447.2 1352.0,462.2 1347.0,462.2 1347.0,472.2 1337.0,472.2 1337.0,477.2 1322.0,477.2 1322.0,472.2 1312.0,472.2 1312.0,462.2 1307.0,462.2 1307.0,447.2 1312.0,447.2 1312.0,437.2 1322.0,437.2"/><polygon fill="#00ff00" points="1451.0,452.1 1466.0,452.1 1466.0,457.1 1476.0,457.1 1476.0,467.1 1481.0,467.1 1481.0,482.1 1476.0,482.1 1476.0,492.1 1466.0,492.1 1466.0,497.1 1451.0,497.1 1451.0,492.1 1441.0,492.1 1441.0,482.1 1436.0,482.1 1436.0,467.1 1441.0,467.1 1441.0,457.1 1451.0,457.1"/><polygon fill="#00ff00" points="1580.2,466.9 1595.2,466.9 1595.2,471.9 1605.2,471.9 1605.2,481.9 1610.2,481.9 1610.2,496.9 1605.2,496.9 1605.2,506.9 1595.2,506.9 1595.2,511.9 1580.2,511.9 1580.2,506.9 1570.2,506.9 1570.2,496.9 1565.2,496.9 1565.2,481.9 1570.2,481.9 1570.2,471.9 1580.2,471.9"/><polygon fill="#00ff00" points="1833.5,496.9 1848.5,496.9 1848.5,501.9 1858.5,501.9 1858.5,511.9 1863.5,511.9 1863.5,526.9 1858.5,526.9 1858.5,536.9 1848.5,536.9 1848.5,541.9 1833.5,541.9 1833.5,536.9 1823.5,536.9 1823.5,526.9 1818.5,526.9 1818.5,511.9 1823.5,511.9 1823.5,501.9 1833.5,501.9"/></g>
<rect x="1225.5" y="866.4" width="565.7" height="317.1" fill="#fff" stroke="#000" stroke-width="4.99"/>
<path fill="#ff0000" d="M1242.8,903.6H1366.7V913.3H1238V908.5H1242.8Z"/><g fill="#ff0000"><rect x="1237.5" y="888.3" width="5.0" height="5.0"/><rect x="1277.5" y="888.3" width="5.0" height="5.0"/><rect x="1242.5" y="893.3" width="5.0" height="5.0"/><rect x="1272.5" y="893.3" width="5.0" height="5.0"/><rect x="1247.5" y="898.3" width="5.0" height="5.0"/><rect x="1267.5" y="898.3" width="5.0" height="5.0"/><rect x="1252.5" y="903.3" width="5.0" height="5.0"/><rect x="1262.5" y="903.3" width="5.0" height="5.0"/><rect x="1257.5" y="908.3" width="5.0" height="5.0"/><rect x="1262.5" y="913.3" width="5.0" height="5.0"/><rect x="1252.5" y="913.3" width="5.0" height="5.0"/><rect x="1267.5" y="918.3" width="5.0" height="5.0"/><rect x="1247.5" y="918.3" width="5.0" height="5.0"/><rect x="1272.5" y="923.3" width="5.0" height="5.0"/><rect x="1242.5" y="923.3" width="5.0" height="5.0"/><rect x="1277.5" y="928.3" width="5.0" height="5.0"/><rect x="1237.5" y="928.3" width="5.0" height="5.0"/></g><g fill="#ff0000"><rect x="1317.1" y="888.3" width="5.0" height="5.0"/><rect x="1357.1" y="888.3" width="5.0" height="5.0"/><rect x="1322.1" y="893.3" width="5.0" height="5.0"/><rect x="1352.1" y="893.3" width="5.0" height="5.0"/><rect x="1327.1" y="898.3" width="5.0" height="5.0"/><rect x="1347.1" y="898.3" width="5.0" height="5.0"/><rect x="1332.1" y="903.3" width="5.0" height="5.0"/><rect x="1342.1" y="903.3" width="5.0" height="5.0"/><rect x="1337.1" y="908.3" width="5.0" height="5.0"/><rect x="1342.1" y="913.3" width="5.0" height="5.0"/><rect x="1332.1" y="913.3" width="5.0" height="5.0"/><rect x="1347.1" y="918.3" width="5.0" height="5.0"/><rect x="1327.1" y="918.3" width="5.0" height="5.0"/><rect x="1352.1" y="923.3" width="5.0" height="5.0"/><rect x="1322.1" y="923.3" width="5.0" height="5.0"/><rect x="1357.1" y="928.3" width="5.0" height="5.0"/><rect x="1317.1" y="928.3" width="5.0" height="5.0"/></g><rect x="1238" y="978.0" width="123.9" height="4.8" fill="#000"/><polygon fill="#000" points="1257.7,957.9 1262.7,957.9 1262.7,967.9 1267.7,967.9 1267.7,977.9 1272.7,977.9 1272.7,987.9 1277.7,987.9 1277.7,997.9 1282.7,997.9 1282.7,1002.9 1237.7,1002.9 1237.7,992.9 1242.7,992.9 1242.7,982.9 1247.7,982.9 1247.7,972.9 1252.7,972.9 1252.7,962.9 1257.7,962.9"/><polygon fill="#000" points="1337.0,957.9 1342.0,957.9 1342.0,967.9 1347.0,967.9 1347.0,977.9 1352.0,977.9 1352.0,987.9 1357.0,987.9 1357.0,997.9 1362.0,997.9 1362.0,1002.9 1317.0,1002.9 1317.0,992.9 1322.0,992.9 1322.0,982.9 1327.0,982.9 1327.0,972.9 1332.0,972.9 1332.0,962.9 1337.0,962.9"/><rect x="1238" y="1052.2" width="128.9" height="9.7" fill="#0000ff"/><rect fill="#0000ff" x="1237.5" y="1037.0" width="44.9" height="44.9"/><rect fill="#0000ff" x="1317.1" y="1037.0" width="44.9" height="44.9"/><rect x="1238" y="1127.0" width="128.9" height="9.5" fill="#00ff00"/><polygon fill="#00ff00" points="1252.5,1111.5 1267.5,1111.5 1267.5,1116.5 1277.5,1116.5 1277.5,1126.5 1282.5,1126.5 1282.5,1141.5 1277.5,1141.5 1277.5,1151.5 1267.5,1151.5 1267.5,1156.5 1252.5,1156.5 1252.5,1151.5 1242.5,1151.5 1242.5,1141.5 1237.5,1141.5 1237.5,1126.5 1242.5,1126.5 1242.5,1116.5 1252.5,1116.5"/><polygon fill="#00ff00" points="1332.1,1111.5 1347.1,1111.5 1347.1,1116.5 1357.1,1116.5 1357.1,1126.5 1362.1,1126.5 1362.1,1141.5 1357.1,1141.5 1357.1,1151.5 1347.1,1151.5 1347.1,1156.5 1332.1,1156.5 1332.1,1151.5 1322.1,1151.5 1322.1,1141.5 1317.1,1141.5 1317.1,1126.5 1322.1,1126.5 1322.1,1116.5 1332.1,1116.5"/>
<filter id="ct" x="-5%" y="-5%" width="110%" height="110%" color-interpolation-filters="sRGB">
<feOffset in="SourceAlpha" dx="0" dy="0" result="er"/>
<feGaussianBlur in="er" stdDeviation="1.3 0" result="bl"/>
<feGaussianBlur in="er" stdDeviation="2.5 0" result="blg"/>
<feOffset in="bl" dx="3.3" dy="0" result="aR"/>
<feOffset in="bl" dx="-3.3" dy="0" result="aB"/>
<feColorMatrix in="aR" type="matrix" values="0 0 0 -1 1  0 0 0 0 0  0 0 0 0 0  0 0 0 0 1" result="r"/>
<feColorMatrix in="blg" type="matrix" values="0 0 0 0 0  0 0 0 -1.1 1  0 0 0 0 0  0 0 0 0 1" result="g"/>
<feColorMatrix in="aB" type="matrix" values="0 0 0 0 0  0 0 0 0 0  0 0 0 -1 1  0 0 0 0 1" result="b"/>
<feComposite in="r" in2="g" operator="arithmetic" k1="0" k2="1" k3="1" k4="0" result="rg"/>
<feComposite in="rg" in2="b" operator="arithmetic" k1="0" k2="1" k3="1" k4="0"/>
</filter><filter id="ct2" x="-5%" y="-5%" width="110%" height="110%" color-interpolation-filters="sRGB">
<feOffset in="SourceAlpha" dx="0" dy="0" result="er"/>
<feGaussianBlur in="er" stdDeviation="1.3 0" result="bl"/>
<feGaussianBlur in="er" stdDeviation="2.5 0" result="blg"/>
<feOffset in="bl" dx="3.3" dy="0" result="aR"/>
<feOffset in="bl" dx="-3.3" dy="0" result="aB"/>
<feColorMatrix in="aR" type="matrix" values="0 0 0 -1 1  0 0 0 0 0  0 0 0 0 0  0 0 0 0 1" result="r"/>
<feColorMatrix in="blg" type="matrix" values="0 0 0 0 0  0 0 0 -1.1 1  0 0 0 0 0  0 0 0 0 1" result="g"/>
<feColorMatrix in="aB" type="matrix" values="0 0 0 0 0  0 0 0 0 0  0 0 0 -1 1  0 0 0 0 1" result="b"/>
<feComposite in="r" in2="g" operator="arithmetic" k1="0" k2="1" k3="1" k4="0" result="rg"/>
<feComposite in="rg" in2="b" operator="arithmetic" k1="0" k2="1" k3="1" k4="0"/>
</filter>
<g font-family="'Liberation Serif', serif" fill="#000" filter="url(#ct)" style="mix-blend-mode:multiply"><text x="1389.8 1457.2 1473.4 1509.3 1545.8 1573.1 1590.0 1649.5 1688.8 1709.3 1728.5" y="942.9" font-size="82">Mixer No. 1</text><text x="1389.8 1457.2 1473.4 1509.3 1545.8 1573.1 1590.0 1649.5 1688.8 1709.3 1729.2" y="1012.1" font-size="82">Mixer No. 2</text><text x="1394.7 1462.1 1478.3 1514.2 1550.7 1578.0 1594.9 1654.4 1693.7 1714.2 1730.9" y="1091.8" font-size="82">Mixer No. 3</text><text x="1394.7 1462.1 1478.3 1514.2 1550.7 1578.0 1594.9 1654.4 1693.7 1714.2 1733.5" y="1161.0" font-size="82">Mixer No. 4</text><text x="563.8 606.5" y="1329.7" font-size="82">50</text><text x="873.4 914.1 954.0" y="1324.8" font-size="82">100</text><text x="1180.9 1219.2 1262.1" y="1324.8" font-size="82">150</text><text x="1489.2 1529.2 1570.3" y="1324.8" font-size="82">200</text><text x="1050.3 1107.7" y="1414.0" font-size="82">Re</text></g>
<g font-family="'Liberation Serif', serif" fill="#000" filter="url(#ct2)" style="mix-blend-mode:multiply"><text x="236.7 267.6" y="80.7" font-size="68">10</text><text x="266.3" y="318.5" font-size="68">1</text><text x="223.0 253.2 266.4" y="556.4" font-size="68">0.1</text><text x="193.0 223.7 238.0 266.4" y="794.5" font-size="68">0.01</text><text x="112.5 141.5 176.9 208.0" y="1032.0" font-size="68">1×10</text><text x="232.3" y="1008.2" font-size="70" stroke="#000" stroke-width="1.4">−</text><text x="273.9" y="997.4" font-size="50">3</text><text x="112.5 141.5 176.9 208.0" y="1270.3" font-size="68">1×10</text><text x="232.3" y="1246.1" font-size="70" stroke="#000" stroke-width="1.4">−</text><text x="274.4" y="1235.2" font-size="50">4</text></g>
<text transform="translate(96,851) rotate(-90)" x="4.0 80.8 107.0 166.2 212.7 230.8 282.0 303.0 339.4 390.1" y="0" font-family="'Liberation Serif', serif" font-size="90" stroke="#000" stroke-width="1.6">M/ΔP,1/kPa</text>
</svg>
</body></html>
